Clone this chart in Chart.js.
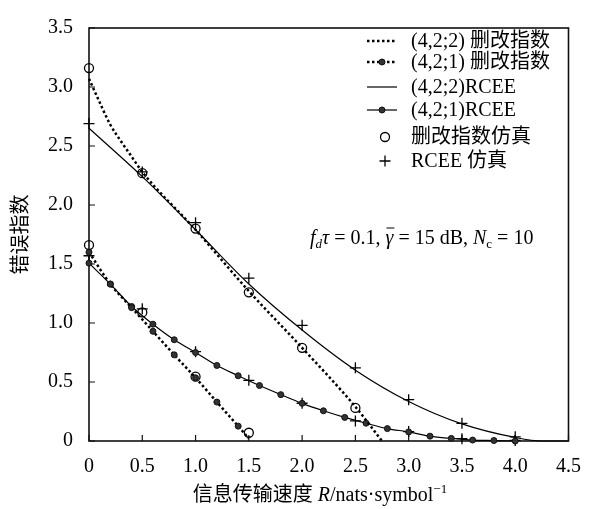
<!DOCTYPE html>
<html>
<head>
<meta charset="utf-8">
<script src="https://cdn.jsdelivr.net/npm/chart.js@4.4.1/dist/chart.umd.min.js"></script>
<style>
  html, body { margin: 0; padding: 0; background: #fff; }
  #wrap { width: 595px; height: 509px; }
</style>
</head>
<body>
<div id="wrap"><canvas id="chart" width="595" height="509"></canvas></div>
<script>
// (4,2;2) 删改指数, theory (dotted)
const del22Rate = [0, 0.1, 0.2, 0.3, 0.4, 0.5, 1.0, 1.5, 2.0, 2.5, 2.75];
const del22Idx  = [3.07, 2.87, 2.68, 2.54, 2.41, 2.28, 1.79, 1.27, 0.79, 0.29, 0];

// (4,2;1) 删改指数, theory (dotted with dots)
const del21Rate = [0, 0.2, 0.4, 0.6, 0.8, 1.0, 1.2, 1.4, 1.5];
const del21Idx  = [1.60, 1.33, 1.13, 0.93, 0.73, 0.536, 0.33, 0.126, 0.02];

// (4,2;2) RCEE, theory (thin solid)
const rcee22Rate = [0, 0.5, 1.0, 1.5, 2.0, 2.5, 3.0, 3.5, 4.0, 4.25, 4.5];
const rcee22Idx  = [2.65, 2.24, 1.79, 1.33, 0.94, 0.60, 0.335, 0.145, 0.03, 0, 0];

// (4,2;1) RCEE, theory (solid with dots)
const rcee21Rate = [0, 0.2, 0.4, 0.6, 0.8, 1.0, 1.2, 1.4, 1.6, 1.8, 2.0,
                    2.2, 2.4, 2.6, 2.8, 3.0, 3.2, 3.4, 3.6, 3.8, 4.0];
const rcee21Idx  = [1.507, 1.33, 1.14, 0.99, 0.858, 0.75, 0.64, 0.553, 0.47, 0.393, 0.319,
                    0.256, 0.20, 0.151, 0.105, 0.077, 0.041, 0.022, 0.008, 0.004, 0];

// simulations
const simDelRate  = [0, 0.5, 1.0, 1.5, 2.0, 2.5, 0, 0.5, 1.0, 1.5];
const simDelIdx   = [3.16, 2.27, 1.80, 1.26, 0.79, 0.28, 1.66, 1.09, 0.545, 0.07];
const simRceeRate = [0, 0.5, 1.0, 1.5, 2.0, 2.5, 3.0, 3.5, 4.0, 0, 0.5, 1.0, 1.5, 2.0, 2.5, 3.0, 3.5, 4.0];
const simRceeIdx  = [2.69, 2.28, 1.85, 1.38, 0.98, 0.62, 0.35, 0.15, 0.035,
                     1.57, 1.12, 0.757, 0.514, 0.32, 0.17, 0.08, 0.02, 0.005];

const seriesLabels = ['(4,2;2) 删改指数', '(4,2;1) 删改指数', '(4,2;2)RCEE', '(4,2;1)RCEE', '删改指数仿真', 'RCEE 仿真'];
const xTickLabels = ['0', '0.5', '1.0', '1.5', '2.0', '2.5', '3.0', '3.5', '4.0', '4.5'];
const yTickLabels = ['0', '0.5', '1.0', '1.5', '2.0', '2.5', '3.0', '3.5'];

const SERIF = "'Liberation Serif', 'Noto Sans CJK SC', serif";

function pts(xs, ys) {
  return xs.map((x, i) => ({ x: x, y: ys[i] }));
}

const DOT = [2.5, 2.5];

const datasets = [
  {
    label: seriesLabels[0], data: pts(del22Rate, del22Idx), showLine: true,
    borderColor: '#000', borderWidth: 2.5, borderDash: DOT, pointRadius: 0,
    cubicInterpolationMode: 'monotone', clip: false
  },
  {
    label: seriesLabels[1], data: pts(del21Rate, del21Idx), showLine: true,
    borderColor: '#000', borderWidth: 2.5, borderDash: DOT,
    pointRadius: c => (c.dataIndex < del21Rate.length - 1 ? 3 : 0),
    pointBackgroundColor: '#333', pointBorderColor: '#111', pointBorderWidth: 1,
    cubicInterpolationMode: 'monotone', clip: false, legendDot: true
  },
  {
    label: seriesLabels[2], data: pts(rcee22Rate, rcee22Idx), showLine: true,
    borderColor: '#000', borderWidth: 1.2, pointRadius: 0,
    cubicInterpolationMode: 'monotone', clip: false
  },
  {
    label: seriesLabels[3], data: pts(rcee21Rate, rcee21Idx), showLine: true,
    borderColor: '#000', borderWidth: 1.2, pointRadius: 3,
    pointBackgroundColor: '#333', pointBorderColor: '#111', pointBorderWidth: 1,
    cubicInterpolationMode: 'monotone', clip: false, legendDot: true
  },
  {
    label: seriesLabels[4], data: pts(simDelRate, simDelIdx), showLine: false,
    pointStyle: 'circle', pointRadius: 4.5, pointBorderWidth: 1.3,
    pointBackgroundColor: 'rgba(255,255,255,0)', pointBorderColor: '#000', clip: false
  },
  {
    label: seriesLabels[5], data: pts(simRceeRate, simRceeIdx), showLine: false,
    pointStyle: 'cross', pointRadius: 5.5, pointBorderWidth: 1.3,
    pointBorderColor: '#000', clip: false
  }
];

// frame, inward ticks, legend, titles and note
const decor = {
  id: 'decor',
  beforeDatasetsDraw(chart) {
    const { ctx, chartArea: a, scales: { x, y } } = chart;
    ctx.save();
    ctx.strokeStyle = '#111';
    ctx.lineWidth = 1.6;
    ctx.strokeRect(a.left, a.top, a.right - a.left, a.bottom - a.top);
    ctx.lineWidth = 1.2;
    ctx.beginPath();
    x.ticks.forEach(t => {
      const px = x.getPixelForValue(t.value);
      ctx.moveTo(px, a.bottom); ctx.lineTo(px, a.bottom - 6);
    });
    y.ticks.forEach(t => {
      const py = y.getPixelForValue(t.value);
      ctx.moveTo(a.left, py); ctx.lineTo(a.left + 6, py);
    });
    ctx.stroke();
    ctx.restore();
  },
  afterDraw(chart) {
    const { ctx, chartArea: a } = chart;
    ctx.save();
    ctx.fillStyle = '#000';
    ctx.strokeStyle = '#000';

    // legend
    const rowY = [41, 62, 87, 110, 137, 161];
    ctx.font = '20px ' + SERIF;
    ctx.textBaseline = 'middle';
    ctx.textAlign = 'left';
    chart.data.datasets.forEach((ds, i) => {
      const yy = rowY[i];
      if (ds.showLine) {
        ctx.save();
        ctx.lineWidth = ds.borderWidth;
        ctx.setLineDash(ds.borderDash || []);
        ctx.beginPath();
        ctx.moveTo(367, yy); ctx.lineTo(397, yy);
        ctx.stroke();
        ctx.restore();
        if (ds.legendDot) {
          ctx.beginPath();
          ctx.arc(382, yy, 3, 0, Math.PI * 2);
          ctx.fillStyle = '#333';
          ctx.fill();
          ctx.lineWidth = 1;
          ctx.strokeStyle = '#111';
          ctx.stroke();
          ctx.fillStyle = '#000';
          ctx.strokeStyle = '#000';
        }
      } else {
        ctx.save();
        ctx.lineWidth = ds.pointBorderWidth;
        ctx.beginPath();
        if (ds.pointStyle === 'circle') {
          ctx.arc(385, yy, ds.pointRadius, 0, Math.PI * 2);
        } else {
          ctx.moveTo(385 - ds.pointRadius, yy); ctx.lineTo(385 + ds.pointRadius, yy);
          ctx.moveTo(385, yy - ds.pointRadius); ctx.lineTo(385, yy + ds.pointRadius);
        }
        ctx.stroke();
        ctx.restore();
      }
      ctx.fillText(ds.label, 411, yy + 1);
    });

    // rich text helper
    function runs(parts, x0, base, align) {
      let w = 0;
      parts.forEach(p => { ctx.font = p.f; w += ctx.measureText(p.t).width; });
      let xx = align === 'center' ? x0 - w / 2 : x0;
      ctx.textAlign = 'left';
      ctx.textBaseline = 'alphabetic';
      parts.forEach(p => {
        ctx.font = p.f;
        const tw = ctx.measureText(p.t).width;
        ctx.fillText(p.t, xx, base + (p.dy || 0));
        if (p.bar) {
          ctx.lineWidth = 1;
          ctx.beginPath();
          ctx.moveTo(xx + 1, base - 15.5); ctx.lineTo(xx + tw + 1, base - 15.5);
          ctx.stroke();
        }
        xx += tw;
      });
    }
    const N = '20px ' + SERIF;
    const I = 'italic 20px ' + SERIF;
    const S = '13px ' + SERIF;
    const SI = 'italic 13px ' + SERIF;

    // condition note
    runs([
      { t: 'f', f: I }, { t: 'd', f: SI, dy: 4 }, { t: 'τ', f: I },
      { t: ' = 0.1, ', f: N }, { t: 'γ', f: I, bar: true },
      { t: ' = 15 dB, ', f: N }, { t: 'N', f: I }, { t: 'c', f: S, dy: 4 },
      { t: ' = 10', f: N }
    ], 310, 243.5, 'left');

    // x title
    runs([
      { t: '信息传输速度 ', f: N }, { t: 'R', f: I },
      { t: '/nats·symbol', f: N }, { t: '−1', f: S, dy: -8 }
    ], 320, 501, 'center');

    // y title
    ctx.save();
    ctx.translate(22, (a.top + a.bottom) / 2);
    ctx.rotate(-Math.PI / 2);
    ctx.font = N;
    ctx.textAlign = 'center';
    ctx.textBaseline = 'middle';
    ctx.fillText('错误指数', 0, 0);
    ctx.restore();

    ctx.restore();
  }
};

new Chart(document.getElementById('chart'), {
  type: 'scatter',
  data: { datasets: datasets },
  options: {
    responsive: false,
    animation: false,
    layout: { padding: { left: 0, top: 16, right: 24, bottom: 0 } },
    plugins: { legend: { display: false }, tooltip: { enabled: false } },
    scales: {
      x: {
        type: 'linear', min: 0, max: 4.5,
        grid: { display: false, drawTicks: false },
        border: { display: false },
        afterFit: s => { s.height = 68; },
        ticks: {
          stepSize: 0.5, autoSkip: false, maxRotation: 0, padding: 14,
          color: '#000', font: { family: SERIF, size: 20 },
          callback: (v, i) => xTickLabels[i]
        }
      },
      y: {
        type: 'linear', min: 0, max: 3.5,
        grid: { display: false, drawTicks: false },
        border: { display: false },
        afterFit: s => { s.width = 89; },
        ticks: {
          stepSize: 0.5, autoSkip: false, padding: 16,
          color: '#000', font: { family: SERIF, size: 20 },
          callback: (v, i) => yTickLabels[i]
        }
      }
    }
  },
  plugins: [decor]
});
</script>
</body>
</html>
